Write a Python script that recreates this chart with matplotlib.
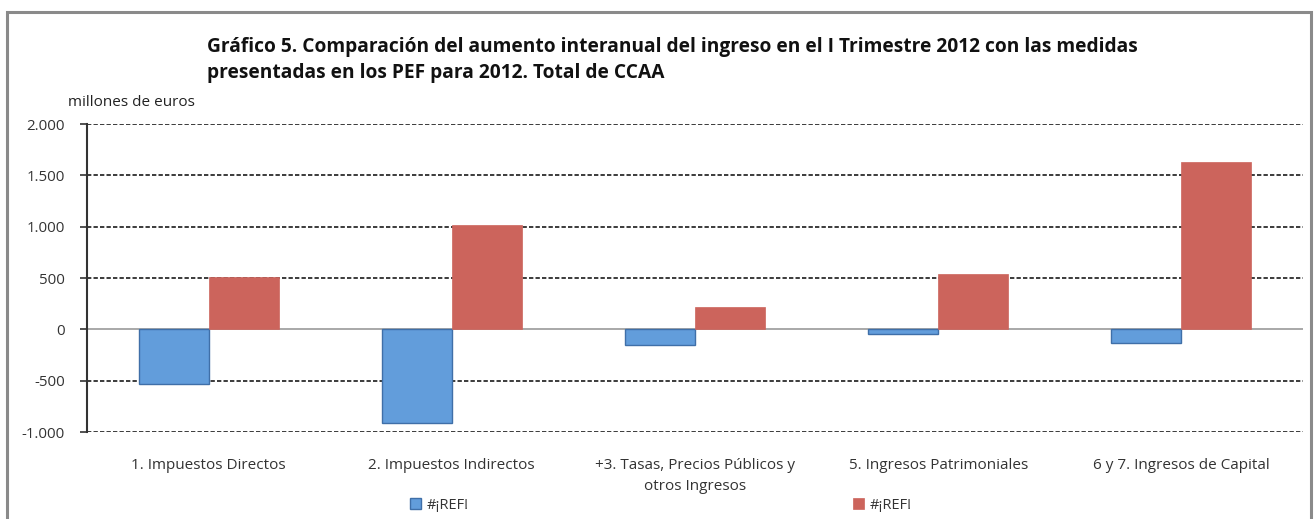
import matplotlib
matplotlib.use("Agg")
import matplotlib.pyplot as plt
import numpy as np
from matplotlib.patches import Rectangle

categories = ["1. Impuestos Directos", "2. Impuestos Indirectos",
              "+3. Tasas, Precios Públicos y\notros Ingresos",
              "5. Ingresos Patrimoniales", "6 y 7. Ingresos de Capital"]
serie_azul = [-530, -910, -150, -50, -130]
serie_roja = [510, 1020, 220, 540, 1630]
series_labels = ["#¡REF!", "#¡REF!"]
yticks = [-1000, -500, 0, 500, 1000, 1500, 2000]
ytick_labels = ["-1.000", "-500", "0", "500", "1.000", "1.500", "2.000"]

plt.rcParams['font.family'] = ['Open Sans', 'DejaVu Sans']

W, H = 1314, 519
fig = plt.figure(figsize=(W/100, H/100), dpi=100)
fig.patches.append(Rectangle((7/W, -0.1), (W-10)/W, 1 - 12/H + 0.1, transform=fig.transFigure,
                             fill=False, edgecolor='#8a8a8a', linewidth=2.2))

ax = fig.add_axes([87/W, 1-432/H, (1303-87)/W, (432-124)/H])
x = np.arange(len(categories))
bw = 0.288
ax.bar(x - bw/2, serie_azul, bw, color='#629ddb', edgecolor='#3f6fa8', linewidth=1.0,
       label=series_labels[0], zorder=3)
ax.bar(x + bw/2, serie_roja, bw, color='#cc645c', edgecolor='#cc645c', linewidth=0.5,
       label=series_labels[1], zorder=3)

ax.set_xlim(-0.5, len(categories) - 0.5)
ax.set_ylim(-1000, 2000)
ax.set_yticks(yticks)
ax.set_yticklabels(ytick_labels, fontsize=10.8, color='#333333')
for v in yticks:
    if v == 0:
        ax.axhline(0, color='#9a9a9a', linewidth=1.2, zorder=2)
    else:
        ax.axhline(v, color='#1a1a1a', linewidth=1.2, linestyle=(0, (2.6, 1.3)), zorder=1)
ax.set_xticks(x)
ax.set_xticklabels(categories, fontsize=11, color='#333333', linespacing=1.55)
ax.tick_params(axis='x', length=0, pad=19)
ax.tick_params(axis='y', length=5, width=1.2, color='#333333', pad=11)
for s in ['top', 'right', 'bottom']:
    ax.spines[s].set_visible(False)
ax.spines['left'].set_color('#333333')
ax.spines['left'].set_linewidth(1.5)

fig.text(207/W, 1-60/H, "Gráfico 5. Comparación del aumento interanual del ingreso en el I Trimestre 2012 con las medidas\npresentadas en los PEF para 2012. Total de CCAA",
         fontsize=13.8, fontweight='bold', va='center', ha='left', color='#111111',
         linespacing=1.35)
fig.text(68/W, 1-103/H, "millones de euros", fontsize=11, va='center', ha='left', color='#222222')

leg = fig.legend(loc='center left', bbox_to_anchor=(403/W, 1-505/H), ncol=2, frameon=False,
                 fontsize=10.5, handlelength=0.75, handleheight=0.75, handletextpad=0.4,
                 columnspacing=26.3, borderpad=0, labelcolor='#333333')

fig.savefig("out.png", dpi=100, facecolor='white')
